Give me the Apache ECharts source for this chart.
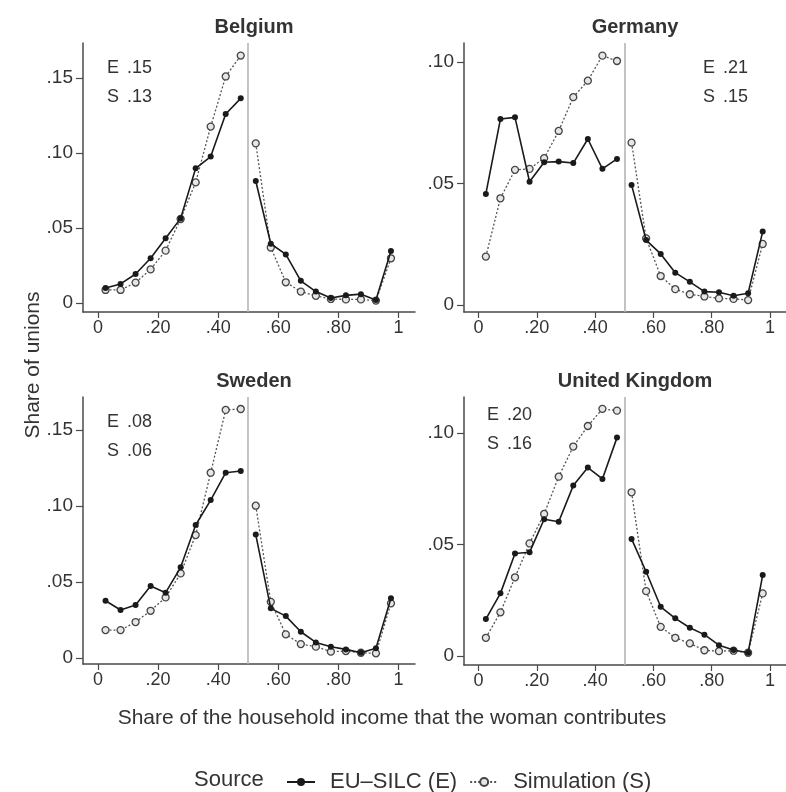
<!DOCTYPE html>
<html>
<head>
<meta charset="utf-8">
<script src="https://cdn.jsdelivr.net/npm/echarts@6/dist/echarts.min.js"></script>
<style>
  html, body { margin: 0; padding: 0; background: #fff; }
  #chart { width: 786px; height: 792px; }
</style>
</head>
<body>
<div id="chart"></div>
<script>
// Bin midpoints of the woman's income share (20 bins of width .05)
const binMids = [0.025, 0.075, 0.125, 0.175, 0.225, 0.275, 0.325, 0.375, 0.425, 0.475,
                 0.525, 0.575, 0.625, 0.675, 0.725, 0.775, 0.825, 0.875, 0.925, 0.975];
const xTicks = [0, 0.2, 0.4, 0.6, 0.8, 1];

const countries = ['Belgium', 'Germany', 'Sweden', 'United Kingdom'];

// Share of unions per bin: EU-SILC (E) and simulation (S)
const belgiumE = [0.0100, 0.0127, 0.0193, 0.0298, 0.0431, 0.0564, 0.0898, 0.0976, 0.1260, 0.1364,
                  0.0813, 0.0395, 0.0324, 0.0148, 0.0076, 0.0033, 0.0051, 0.0059, 0.0020, 0.0347];
const belgiumS = [0.0087, 0.0087, 0.0136, 0.0224, 0.0349, 0.0560, 0.0804, 0.1176, 0.1510, 0.1649,
                  0.1064, 0.0370, 0.0138, 0.0076, 0.0048, 0.0027, 0.0024, 0.0024, 0.0016, 0.0298];
const germanyE = [0.0457, 0.0765, 0.0772, 0.0507, 0.0587, 0.0590, 0.0584, 0.0683, 0.0560, 0.0601,
                  0.0494, 0.0267, 0.0210, 0.0133, 0.0095, 0.0055, 0.0052, 0.0038, 0.0048, 0.0302];
const germanyS = [0.0199, 0.0439, 0.0556, 0.0560, 0.0604, 0.0716, 0.0855, 0.0923, 0.1026, 0.1004,
                  0.0668, 0.0274, 0.0119, 0.0065, 0.0044, 0.0035, 0.0027, 0.0025, 0.0020, 0.0251];
const swedenE  = [0.0377, 0.0316, 0.0349, 0.0474, 0.0430, 0.0597, 0.0875, 0.1039, 0.1219, 0.1230,
                  0.0812, 0.0327, 0.0276, 0.0173, 0.0103, 0.0075, 0.0057, 0.0035, 0.0064, 0.0393];
const swedenS  = [0.0184, 0.0184, 0.0237, 0.0311, 0.0399, 0.0557, 0.0809, 0.1219, 0.1632, 0.1638,
                  0.1002, 0.0370, 0.0156, 0.0092, 0.0075, 0.0042, 0.0046, 0.0035, 0.0031, 0.0360];
const ukE      = [0.0166, 0.0281, 0.0460, 0.0465, 0.0613, 0.0602, 0.0764, 0.0845, 0.0794, 0.0979,
                  0.0525, 0.0378, 0.0221, 0.0169, 0.0127, 0.0096, 0.0049, 0.0027, 0.0015, 0.0363];
const ukS      = [0.0082, 0.0196, 0.0353, 0.0505, 0.0637, 0.0804, 0.0939, 0.1031, 0.1108, 0.1100,
                  0.0734, 0.0291, 0.0131, 0.0082, 0.0057, 0.0026, 0.0022, 0.0024, 0.0015, 0.0281];

// Y tick values per panel
const yTicksBelgium = [0, 0.05, 0.10, 0.15];
const yTicksGermany = [0, 0.05, 0.10];
const yTicksSweden  = [0, 0.05, 0.10, 0.15];
const yTicksUK      = [0, 0.05, 0.10];

// Gini-type summary shown in each panel
const statE = ['.15', '.21', '.08', '.20'];
const statS = ['.13', '.15', '.06', '.16'];

const seriesE = [belgiumE, germanyE, swedenE, ukE];
const seriesS = [belgiumS, germanyS, swedenS, ukS];
const yTicks = [yTicksBelgium, yTicksGermany, yTicksSweden, yTicksUK];

// Panel geometry and y ranges
const panels = [
  { left: 83,  top: 43,  height: 269, ymin: -0.006, ymax: 0.1733, statX: 107, statY: 68 },
  { left: 464, top: 43,  height: 269, ymin: -0.0029, ymax: 0.1078, statX: 703, statY: 68 },
  { left: 83,  top: 397, height: 267, ymin: -0.0039, ymax: 0.1717, statX: 107, statY: 422 },
  { left: 464, top: 397, height: 268, ymin: -0.004, ymax: 0.1161, statX: 487, statY: 415 }
];
const panelWidth = 332;

const FONT = '"Liberation Sans", Arial, Helvetica, sans-serif';
const AXIS_COLOR = '#4a4a4a';
const TEXT_COLOR = '#333';

function fmtTick(v) {
  if (v === 0) return '0';
  if (v === 1) return '1';
  return v.toFixed(2).replace(/^0/, '');
}

// Pairs with a gap at the .5 boundary so the two halves are drawn separately
function toPairs(vals) {
  const out = [];
  vals.forEach((v, i) => {
    if (i === 10) out.push([0.5, '-']);
    out.push([binMids[i], v]);
  });
  return out;
}

const grids = [], xAxes = [], yAxes = [], series = [], titles = [], graphics = [];

panels.forEach((p, k) => {
  grids.push({ left: p.left, top: p.top, width: panelWidth, height: p.height });
  xAxes.push({
    type: 'value', gridIndex: k, min: -0.05, max: 1.055,
    splitLine: { show: false },
    axisLine: { show: true, onZero: false, lineStyle: { color: AXIS_COLOR, width: 1.5 } },
    axisTick: { show: true, length: 6, customValues: xTicks, lineStyle: { color: AXIS_COLOR, width: 1.2 } },
    axisLabel: { customValues: xTicks, formatter: fmtTick, color: TEXT_COLOR, fontSize: 18,
                 fontFamily: FONT, margin: 7 }
  });
  yAxes.push({
    type: 'value', gridIndex: k, min: p.ymin, max: p.ymax,
    splitLine: { show: false },
    axisLine: { show: true, onZero: false, lineStyle: { color: AXIS_COLOR, width: 1.5 } },
    axisTick: { show: true, length: 7, customValues: yTicks[k], lineStyle: { color: AXIS_COLOR, width: 1.2 } },
    axisLabel: { customValues: yTicks[k], formatter: fmtTick, color: TEXT_COLOR, fontSize: 19,
                 fontFamily: FONT, margin: 10 }
  });
  series.push({
    name: 'EU–SILC (E)', type: 'line', xAxisIndex: k, yAxisIndex: k,
    data: toPairs(seriesE[k]), connectNulls: false,
    symbol: 'circle', symbolSize: 6, z: 4,
    lineStyle: { color: '#1a1a1a', width: 1.6 },
    itemStyle: { color: '#1a1a1a' },
    markLine: {
      silent: true, symbol: 'none', label: { show: false },
      lineStyle: { color: '#b5b5b5', width: 1.6, type: 'solid' },
      data: [{ xAxis: 0.5 }]
    }
  });
  series.push({
    name: 'Simulation (S)', type: 'line', xAxisIndex: k, yAxisIndex: k,
    data: toPairs(seriesS[k]), connectNulls: false,
    symbol: 'circle', symbolSize: 7, z: 3,
    lineStyle: { color: '#555', width: 1.3, type: [2, 2] },
    itemStyle: { color: '#e6e6e6', borderColor: '#444', borderWidth: 1.3 }
  });
  titles.push({
    text: countries[k], left: p.left + panelWidth / 2, top: p.top - 31, textAlign: 'center',
    textStyle: { fontFamily: FONT, fontWeight: 'bold', fontSize: 20, color: '#333' }
  });
  const statFont = '18px ' + FONT;
  graphics.push(
    { type: 'text', x: p.statX, y: p.statY,
      style: { text: 'E', font: statFont, fill: TEXT_COLOR, textVerticalAlign: 'middle' } },
    { type: 'text', x: p.statX + 20, y: p.statY,
      style: { text: statE[k], font: statFont, fill: TEXT_COLOR, textVerticalAlign: 'middle' } },
    { type: 'text', x: p.statX, y: p.statY + 29,
      style: { text: 'S', font: statFont, fill: TEXT_COLOR, textVerticalAlign: 'middle' } },
    { type: 'text', x: p.statX + 20, y: p.statY + 29,
      style: { text: statS[k], font: statFont, fill: TEXT_COLOR, textVerticalAlign: 'middle' } }
  );
});

// Shared axis titles and legend caption
graphics.push(
  { type: 'text', x: 33, y: 365, rotation: Math.PI / 2,
    style: { text: 'Share of unions', font: '21px ' + FONT, fill: '#333',
             textAlign: 'center', textVerticalAlign: 'middle' } },
  { type: 'text', x: 392, y: 718,
    style: { text: 'Share of the household income that the woman contributes', font: '21px ' + FONT,
             fill: '#333', textAlign: 'center', textVerticalAlign: 'middle' } },
  { type: 'text', x: 194, y: 780,
    style: { text: 'Source', font: '22px ' + FONT, fill: '#333',
             textAlign: 'left', textVerticalAlign: 'middle' } }
);

const chart = echarts.init(document.getElementById('chart'), null, { renderer: 'canvas' });
chart.setOption({
  backgroundColor: '#fff',
  animation: false,
  title: titles,
  grid: grids,
  xAxis: xAxes,
  yAxis: yAxes,
  legend: {
    data: ['EU–SILC (E)', 'Simulation (S)'],
    left: 281, top: 766, itemWidth: 28, itemHeight: 10, itemGap: 12,
    selectedMode: false,
    textStyle: { fontFamily: FONT, fontSize: 22, color: '#333', padding: [0, 0, 0, 10],
                 verticalAlign: 'middle', lineHeight: 22 }
  },
  graphic: graphics,
  series: series
});
</script>
</body>
</html>
